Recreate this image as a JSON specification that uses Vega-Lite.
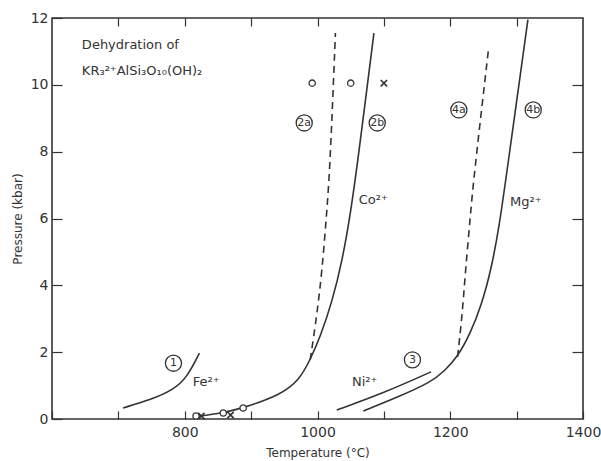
{
  "$schema": "https://vega.github.io/schema/vega-lite/v6.json",
  "width": 531,
  "height": 401,
  "autosize": {"type": "none"},
  "padding": {"left": 52, "top": 18, "right": 18, "bottom": 42},
  "background": "white",
  "config": {
    "view": {"stroke": "#333", "strokeWidth": 1.6},
    "font": "DejaVu Sans",
    "axis": {"grid": false, "domain": false, "tickColor": "#333", "tickWidth": 1.2, "labelColor": "#333", "titleColor": "#333", "labelFont": "DejaVu Sans", "titleFont": "DejaVu Sans", "titleFontWeight": "normal"}
  },
  "datasets": {
    "curves": [
      {"s": "Fe", "o": 0, "T": 707, "P": 0.33},
      {"s": "Fe", "o": 1, "T": 748, "P": 0.57},
      {"s": "Fe", "o": 2, "T": 783, "P": 0.87},
      {"s": "Fe", "o": 3, "T": 804, "P": 1.26},
      {"s": "Fe", "o": 4, "T": 822, "P": 1.97},
      {"s": "Co", "o": 0, "T": 815, "P": 0.07},
      {"s": "Co", "o": 1, "T": 858, "P": 0.18},
      {"s": "Co", "o": 2, "T": 888, "P": 0.33},
      {"s": "Co", "o": 3, "T": 944, "P": 0.72},
      {"s": "Co", "o": 4, "T": 972, "P": 1.15},
      {"s": "Co", "o": 5, "T": 989, "P": 1.77},
      {"s": "Co", "o": 6, "T": 1004, "P": 2.45},
      {"s": "Co", "o": 7, "T": 1022, "P": 3.5},
      {"s": "Co", "o": 8, "T": 1038, "P": 4.8},
      {"s": "Co", "o": 9, "T": 1050, "P": 6.2},
      {"s": "Co", "o": 10, "T": 1060, "P": 7.6},
      {"s": "Co", "o": 11, "T": 1085, "P": 11.55},
      {"s": "Co_d", "o": 0, "T": 989, "P": 1.77},
      {"s": "Co_d", "o": 1, "T": 999, "P": 3.1},
      {"s": "Co_d", "o": 2, "T": 1007, "P": 4.46},
      {"s": "Co_d", "o": 3, "T": 1014, "P": 6.2},
      {"s": "Co_d", "o": 4, "T": 1019, "P": 7.6},
      {"s": "Co_d", "o": 5, "T": 1027, "P": 11.55},
      {"s": "Ni", "o": 0, "T": 1029, "P": 0.27},
      {"s": "Ni", "o": 1, "T": 1100, "P": 0.78},
      {"s": "Ni", "o": 2, "T": 1171, "P": 1.41},
      {"s": "Mg", "o": 0, "T": 1069, "P": 0.24},
      {"s": "Mg", "o": 1, "T": 1119, "P": 0.64},
      {"s": "Mg", "o": 2, "T": 1171, "P": 1.1},
      {"s": "Mg", "o": 3, "T": 1192, "P": 1.45},
      {"s": "Mg", "o": 4, "T": 1211, "P": 1.86},
      {"s": "Mg", "o": 5, "T": 1230, "P": 2.55},
      {"s": "Mg", "o": 6, "T": 1247, "P": 3.4},
      {"s": "Mg", "o": 7, "T": 1262, "P": 4.5},
      {"s": "Mg", "o": 8, "T": 1274, "P": 5.8},
      {"s": "Mg", "o": 9, "T": 1284, "P": 7.2},
      {"s": "Mg", "o": 10, "T": 1317, "P": 11.95},
      {"s": "Mg_d", "o": 0, "T": 1211, "P": 1.86},
      {"s": "Mg_d", "o": 1, "T": 1218, "P": 3.1},
      {"s": "Mg_d", "o": 2, "T": 1223, "P": 4.46},
      {"s": "Mg_d", "o": 3, "T": 1230, "P": 6.0},
      {"s": "Mg_d", "o": 4, "T": 1235, "P": 7.15},
      {"s": "Mg_d", "o": 5, "T": 1258, "P": 11.13}
    ],
    "circles": [
      {"T": 817, "P": 0.09},
      {"T": 858, "P": 0.18},
      {"T": 888, "P": 0.33},
      {"T": 992, "P": 10.05},
      {"T": 1050, "P": 10.05}
    ],
    "crosses": [
      {"T": 825, "P": 0.09},
      {"T": 869, "P": 0.12},
      {"T": 1100, "P": 10.05}
    ],
    "tags": [
      {"t": "1", "T": 783, "P": 1.67},
      {"t": "2a", "T": 980, "P": 8.86},
      {"t": "2b", "T": 1090, "P": 8.86},
      {"t": "3", "T": 1143, "P": 1.77},
      {"t": "4a", "T": 1213, "P": 9.25},
      {"t": "4b", "T": 1325, "P": 9.25}
    ],
    "labels": [
      {"t": "Fe²⁺", "T": 812, "P": 1.12},
      {"t": "Co²⁺", "T": 1062, "P": 6.55},
      {"t": "Ni²⁺", "T": 1052, "P": 1.12},
      {"t": "Mg²⁺", "T": 1290, "P": 6.5},
      {"t": "Dehydration of", "T": 645, "P": 11.2},
      {"t": "KR₃²⁺AlSi₃O₁₀(OH)₂", "T": 645, "P": 10.4}
    ]
  },
  "layer": [
    {
      "data": {"name": "curves"},
      "transform": [{"filter": "datum.s == 'Fe' || datum.s == 'Co' || datum.s == 'Ni' || datum.s == 'Mg'"}],
      "mark": {"type": "line", "color": "#333", "strokeWidth": 1.6, "interpolate": "basis"},
      "encoding": {
        "x": {"field": "T", "type": "quantitative", "scale": {"domain": [600, 1400], "nice": false, "zero": false},
          "axis": {"orient": "bottom", "values": [600, 700, 800, 900, 1000, 1100, 1200, 1300, 1400], "tickSize": -8,
            "labelExpr": "(datum.value % 200 == 0 && datum.value > 600) ? datum.label : ''", "format": "d",
            "labelFontSize": 14, "labelPadding": 14, "title": "Temperature (°C)", "titleFontSize": 12, "titlePadding": 8, "labelFlush": false}},
        "y": {"field": "P", "type": "quantitative", "scale": {"domain": [0, 12], "nice": false},
          "axis": {"orient": "left", "values": [0, 2, 4, 6, 8, 10, 12], "tickSize": -10, "labelFontSize": 14, "labelPadding": 14,
            "title": "Pressure (kbar)", "titleFontSize": 12, "titlePadding": 6, "labelFlush": false}},
        "detail": {"field": "s"},
        "order": {"field": "o", "type": "quantitative"}
      }
    },
    {
      "data": {"name": "curves"},
      "transform": [{"filter": "datum.s == 'Co_d' || datum.s == 'Mg_d'"}],
      "mark": {"type": "line", "color": "#333", "strokeWidth": 1.6, "strokeDash": [7, 5], "interpolate": "basis"},
      "encoding": {
        "x": {"field": "T", "type": "quantitative",
          "axis": {"orient": "top", "values": [700, 800, 900, 1000, 1100, 1200, 1300], "tickSize": -8, "labels": false, "title": null}},
        "y": {"field": "P", "type": "quantitative",
          "axis": {"orient": "right", "values": [2, 4, 6, 8, 10], "tickSize": -11, "labels": false, "title": null}},
        "detail": {"field": "s"},
        "order": {"field": "o", "type": "quantitative"}
      }
    },
    {
      "data": {"name": "circles"},
      "mark": {"type": "point", "shape": "circle", "filled": true, "fill": "white", "stroke": "#333", "strokeWidth": 1.3, "size": 40, "opacity": 1},
      "encoding": {
        "x": {"field": "T", "type": "quantitative", "axis": null},
        "y": {"field": "P", "type": "quantitative", "axis": null}
      }
    },
    {
      "data": {"name": "crosses"},
      "mark": {"type": "point", "shape": "M-1,-1L1,1M-1,1L1,-1", "filled": false, "stroke": "#333", "strokeWidth": 1.6, "size": 40, "opacity": 1},
      "encoding": {
        "x": {"field": "T", "type": "quantitative", "axis": null},
        "y": {"field": "P", "type": "quantitative", "axis": null}
      }
    },
    {
      "data": {"name": "tags"},
      "mark": {"type": "point", "shape": "circle", "filled": false, "stroke": "#333", "strokeWidth": 1.3, "size": 260, "opacity": 1},
      "encoding": {
        "x": {"field": "T", "type": "quantitative", "axis": null},
        "y": {"field": "P", "type": "quantitative", "axis": null}
      }
    },
    {
      "data": {"name": "tags"},
      "mark": {"type": "text", "fontSize": 11, "color": "#333", "align": "center", "baseline": "middle"},
      "encoding": {
        "x": {"field": "T", "type": "quantitative", "axis": null},
        "y": {"field": "P", "type": "quantitative", "axis": null},
        "text": {"field": "t"}
      }
    },
    {
      "data": {"name": "labels"},
      "mark": {"type": "text", "fontSize": 13, "color": "#333", "align": "left", "baseline": "middle"},
      "encoding": {
        "x": {"field": "T", "type": "quantitative", "axis": null},
        "y": {"field": "P", "type": "quantitative", "axis": null},
        "text": {"field": "t"}
      }
    }
  ]
}
